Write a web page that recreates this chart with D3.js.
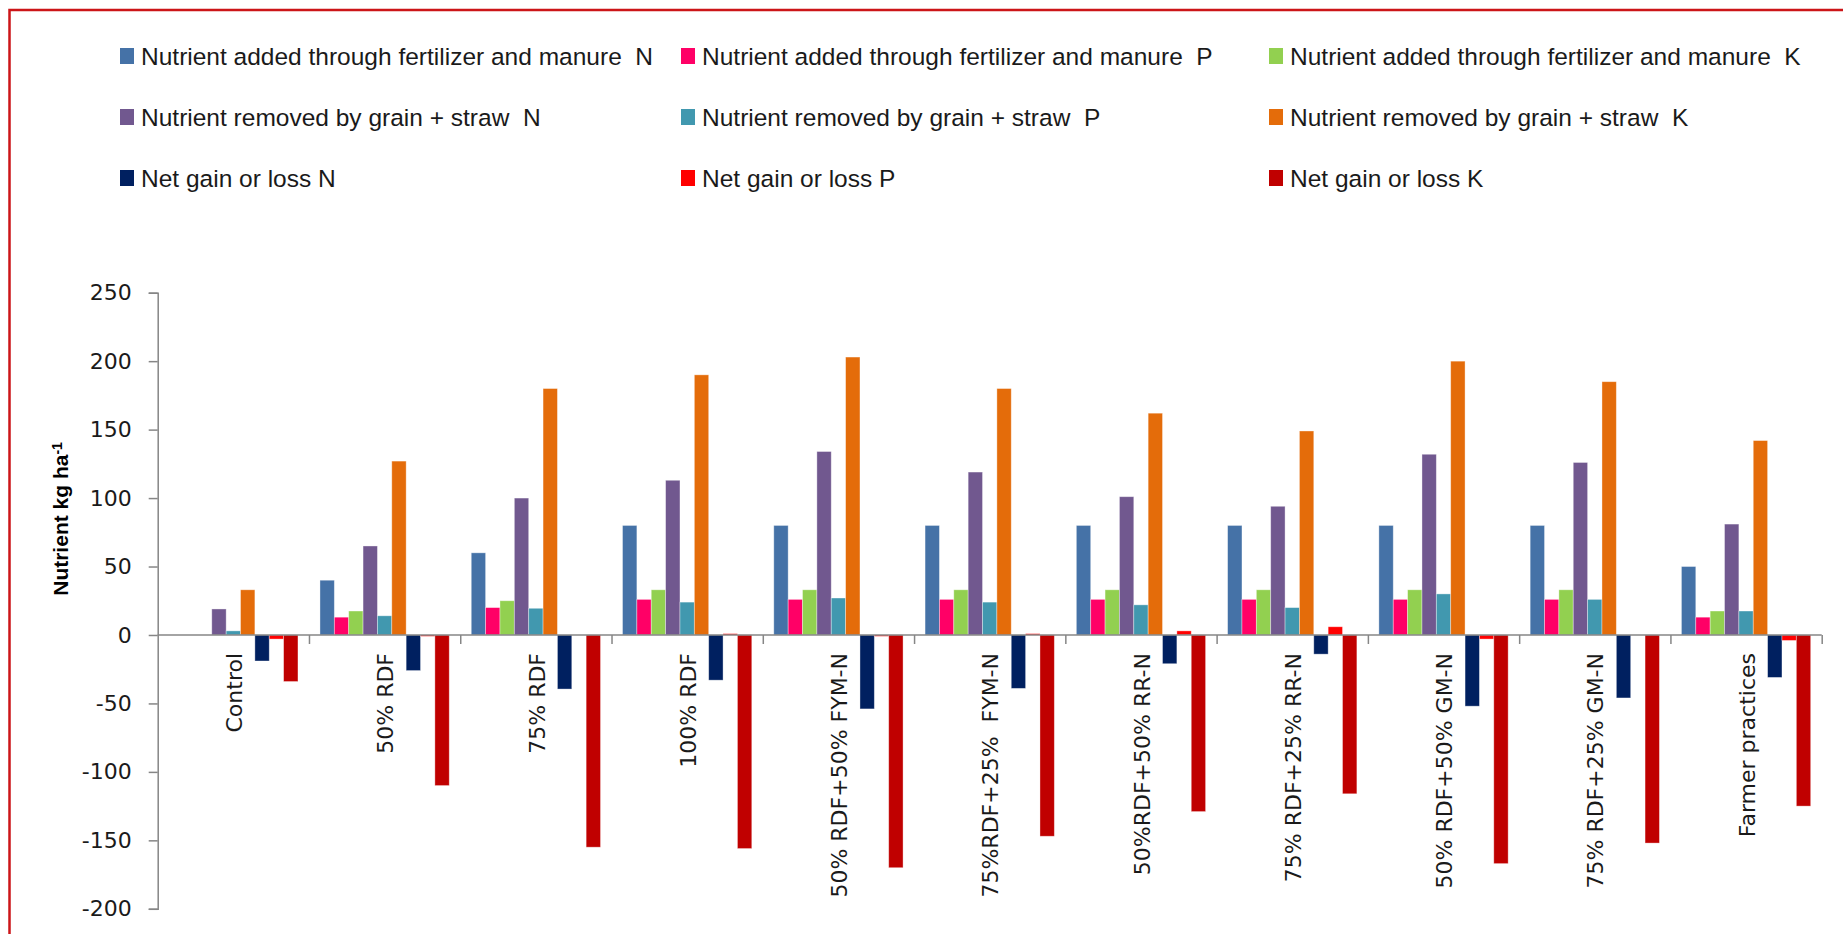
<!DOCTYPE html>
<html>
<head>
<meta charset="utf-8">
<script src="https://cdn.jsdelivr.net/npm/d3@7"></script>
<style>
  html, body { margin: 0; padding: 0; background: #ffffff; }
  svg { display: block; }
  text { white-space: pre; }
</style>
</head>
<body>
<svg id="chart" width="1843" height="934"></svg>
<script>
// Treatments on the category axis
const treatments = [
  "Control", "50% RDF", "75% RDF", "100% RDF", "50% RDF+50% FYM-N",
  "75%RDF+25%  FYM-N", "50%RDF+50% RR-N", "75% RDF+25% RR-N",
  "50% RDF+50% GM-N", "75% RDF+25% GM-N", "Farmer practices"
];

// Series names (legend order)
const seriesNames = [
  "Nutrient added through fertilizer and manure  N",
  "Nutrient added through fertilizer and manure  P",
  "Nutrient added through fertilizer and manure  K",
  "Nutrient removed by grain + straw  N",
  "Nutrient removed by grain + straw  P",
  "Nutrient removed by grain + straw  K",
  "Net gain or loss N",
  "Net gain or loss P",
  "Net gain or loss K"
];

// kg ha-1, one value per treatment
const addedN   = [0, 40, 60, 80, 80, 80, 80, 80, 80, 80, 50];
const addedP   = [0, 13, 20, 26, 26, 26, 26, 26, 26, 26, 13];
const addedK   = [0, 17.5, 25, 33, 33, 33, 33, 33, 33, 33, 17.5];
const removedN = [19, 65, 100, 113, 134, 119, 101, 94, 132, 126, 81];
const removedP = [3, 14, 19.5, 24, 27, 24, 22, 20, 30, 26, 17.5];
const removedK = [33, 127, 180, 190, 203, 180, 162, 149, 200, 185, 142];
const netN     = [-19, -26, -39.5, -33, -54, -39, -21, -14, -52, -46, -31];
const netP     = [-3, -1, 0, 1, -1, 1, 3, 6, -3, 0, -4];
const netK     = [-34, -110, -155, -156, -170, -147, -129, -116, -167, -152, -125];

const seriesValues = [addedN, addedP, addedK, removedN, removedP, removedK, netN, netP, netK];

const seriesColors = [
  "#4572a7", "#ff0066", "#92d050",
  "#71588f", "#4198af", "#e46c0a",
  "#002060", "#ff0000", "#c00000"
];

const yTicks = [-200, -150, -100, -50, 0, 50, 100, 150, 200, 250];

const svg = d3.select("#chart");

// outer frame
svg.append("rect")
  .attr("x", 9.5).attr("y", 10)
  .attr("width", 1900).attr("height", 1000)
  .attr("fill", "none")
  .attr("stroke", "#cc1518")
  .attr("stroke-width", 2.5);

const plot = { left: 157.7, right: 1821.7 };

const y = d3.scaleLinear().domain([-200, 250]).range([908.8, 292.7]);

const x0 = d3.scaleBand()
  .domain(treatments)
  .range([plot.left, plot.right])
  .paddingInner(0).paddingOuter(0);

const x1 = d3.scaleBand()
  .domain(d3.range(seriesNames.length))
  .range([0, x0.bandwidth()])
  .paddingInner(0)
  .paddingOuter(0.766);

// bars
const groups = svg.append("g").selectAll("g")
  .data(treatments)
  .join("g")
  .attr("transform", d => `translate(${x0(d)},0)`);

groups.selectAll("rect")
  .data((d, i) => seriesValues.map((vals, s) => ({ s, v: vals[i] })))
  .join("rect")
  .attr("x", d => x1(d.s))
  .attr("width", x1.bandwidth())
  .attr("y", d => y(Math.max(0, d.v)))
  .attr("height", d => Math.abs(y(d.v) - y(0)))
  .attr("fill", d => seriesColors[d.s])
  .attr("stroke", "rgba(255,255,255,0.45)")
  .attr("stroke-width", 0.8);

// y axis (plain hyphen for negatives)
const yAxis = d3.axisLeft(y)
  .tickValues(yTicks)
  .tickSize(9)
  .tickPadding(17)
  .tickFormat(d => String(d));

const gy = svg.append("g")
  .attr("transform", `translate(${plot.left},0)`)
  .call(yAxis);
gy.select(".domain").attr("stroke", "#868686").attr("stroke-width", 1.5);
gy.selectAll(".tick line").attr("stroke", "#868686").attr("stroke-width", 1.5);
gy.selectAll(".tick text")
  .attr("fill", "#1a1a1a")
  .style("font-family", "'DejaVu Sans', Verdana, sans-serif")
  .style("font-size", "22px");

// x axis along zero, with ticks at category boundaries
const xb = d3.scaleLinear().domain([0, treatments.length]).range([plot.left, plot.right]);
const gx = svg.append("g")
  .attr("transform", `translate(0,${y(0)})`)
  .call(d3.axisBottom(xb).tickValues(d3.range(1, treatments.length + 1)).tickSize(9).tickFormat(""));
gx.select(".domain").attr("stroke", "#868686").attr("stroke-width", 1.5)
  .attr("d", `M${plot.left},0H${plot.right}`);
gx.selectAll(".tick line").attr("stroke", "#868686").attr("stroke-width", 1.5);

// category labels, rotated
svg.append("g").selectAll("text")
  .data(treatments)
  .join("text")
  .attr("transform", d => `translate(${x0(d) + x0.bandwidth() / 2 + 1},${y(0) + 18}) rotate(-90)`)
  .attr("text-anchor", "end")
  .attr("dy", "0.35em")
  .attr("fill", "#1a1a1a")
  .style("font-family", "'DejaVu Sans', Verdana, sans-serif")
  .style("font-size", "22px")
  .text(d => d);

// y axis title
const title = svg.append("text")
  .attr("transform", `translate(68,${y(0) - 116}) rotate(-90)`)
  .attr("text-anchor", "middle")
  .attr("fill", "#000")
  .style("font-family", "'Liberation Sans Narrow', 'Liberation Sans', sans-serif")
  .style("font-weight", "bold")
  .style("font-size", "21px");
title.append("tspan").text("Nutrient kg ha");
title.append("tspan").attr("dy", "-0.45em").style("font-size", "14px").text("-1");

// legend: 3 rows x 3 columns
const legendCols = [127, 688, 1276];
const legendRows = [56, 117, 178];
const legend = svg.append("g").selectAll("g")
  .data(seriesNames)
  .join("g")
  .attr("transform", (d, i) => `translate(${legendCols[i % 3]},${legendRows[Math.floor(i / 3)]})`);

legend.append("rect")
  .attr("x", -7).attr("y", -8)
  .attr("width", 14).attr("height", 16)
  .attr("fill", (d, i) => seriesColors[i]);

legend.append("text")
  .attr("x", 14)
  .attr("dy", "0.36em")
  .attr("fill", "#1a1a1a")
  .style("font-family", "'Liberation Sans Narrow', 'Liberation Sans', sans-serif")
  .style("font-size", "24.5px")
  .text(d => d);
</script>
</body>
</html>
